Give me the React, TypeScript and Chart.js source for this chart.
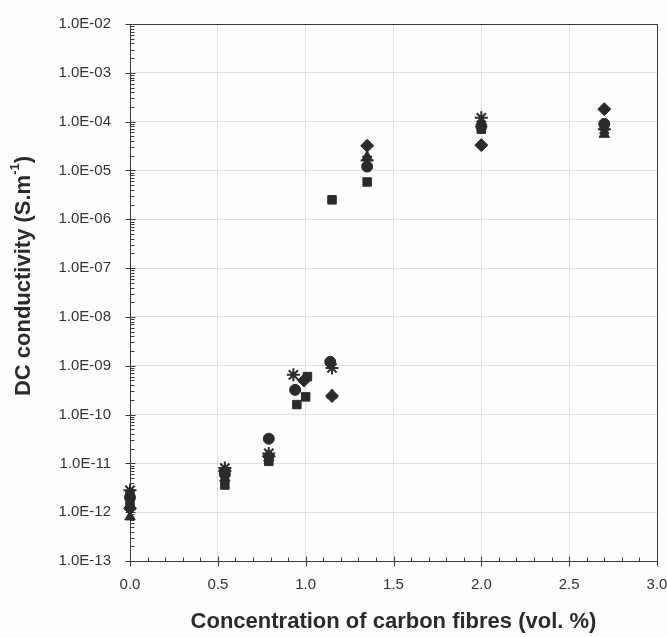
import { useEffect, useRef } from 'react';
import { Chart, registerables } from 'chart.js';
Chart.register(...registerables);

// concentration of carbon fibres (vol. %) and DC conductivity (S/m) per symbol series
const diamondX = [0, 0.54, 0.79, 0.99, 1.15, 1.35, 2.0, 2.7];
const diamondY = [1.2e-12, 7e-12, 1.4e-11, 5e-10, 2.4e-10, 3.2e-5, 3.3e-5, 1.8e-4];

const squareX = [0, 0, 0.54, 0.79, 0.95, 1.0, 1.01, 1.15, 1.35, 2.0, 2.7];
const squareY = [2.2e-12, 1.5e-12, 3.6e-12, 1.1e-11, 1.6e-10, 2.3e-10, 6e-10, 2.5e-6, 5.8e-6, 7e-5, 8e-5];

const triangleX = [0, 0.54, 0.79, 1.15, 1.35, 2.0, 2.7];
const triangleY = [8e-13, 5e-12, 1.3e-11, 2.5e-10, 1.9e-5, 9e-5, 5.5e-5];

const circleX = [0, 0.54, 0.79, 0.94, 1.14, 1.35, 2.0, 2.7];
const circleY = [2e-12, 6e-12, 3.2e-11, 3.2e-10, 1.2e-9, 1.2e-5, 8e-5, 9e-5];

const starX = [0, 0.54, 0.79, 0.93, 1.15, 1.35, 2.0, 2.7];
const starY = [2.8e-12, 8e-12, 1.6e-11, 6.5e-10, 9e-10, 1.6e-5, 1.2e-4, 7e-5];

const yTickExponents = [-13, -12, -11, -10, -9, -8, -7, -6, -5, -4, -3, -2];
const xTickValues = [0, 0.5, 1.0, 1.5, 2.0, 2.5, 3.0];

const xTitle = 'Concentration of carbon fibres (vol. %)';
const yTitleMain = 'DC conductivity (S.m';
const yTitleSup = '-1';
const yTitleEnd = ')';

const FONT = '"Liberation Sans", Arial, sans-serif';
const INK = '#2b2b2b';

const toPts = (xs: number[], ys: number[]) => xs.map((x, i) => ({ x, y: ys[i] }));
const fmtY = (v: number) => {
  const e = Math.round(Math.log10(v));
  return `1.0E${e < 0 ? '-' : '+'}${String(Math.abs(e)).padStart(2, '0')}`;
};

const framePlugin = {
  id: 'frame',
  beforeDraw(chart: any) {
    const { ctx, width, height } = chart;
    ctx.save();
    ctx.fillStyle = '#fefefc';
    ctx.fillRect(0, 0, width, height);
    ctx.restore();
  },
  beforeDatasetsDraw(chart: any) {
    const { ctx, chartArea, scales } = chart;
    const { left, right, top, bottom } = chartArea;
    const xs = scales.x, ys = scales.y;
    ctx.save();
    ctx.strokeStyle = '#3a3a3a';
    ctx.lineWidth = 1;
    ctx.beginPath();
    ctx.rect(Math.round(left) + 0.5, Math.round(top) + 0.5, Math.round(right - left), Math.round(bottom - top));
    ctx.stroke();
    const L = Math.round(left) + 0.5;
    const B = Math.round(bottom) + 0.5;
    ctx.beginPath();
    for (let e = -13; e <= -2; e++) {
      const py = Math.round(ys.getPixelForValue(Math.pow(10, e))) + 0.5;
      ctx.moveTo(L - 5, py); ctx.lineTo(L + 5, py);
      if (e < -2) {
        for (let m = 2; m <= 9; m++) {
          const pm = Math.round(ys.getPixelForValue(m * Math.pow(10, e))) + 0.5;
          ctx.moveTo(L, pm); ctx.lineTo(L + 4, pm);
        }
      }
    }
    for (let i = 0; i <= 30; i++) {
      const v = i / 10;
      const px = Math.round(xs.getPixelForValue(v)) + 0.5;
      if (i % 5 === 0) { ctx.moveTo(px, B - 5); ctx.lineTo(px, B + 5); }
      else { ctx.moveTo(px, B); ctx.lineTo(px, B - 4); }
    }
    ctx.stroke();
    ctx.restore();
  },
  afterDraw(chart: any) {
    const { ctx, chartArea } = chart;
    const { left, right } = chartArea;
    ctx.save();
    ctx.fillStyle = INK;
    ctx.font = `bold 22px ${FONT}`;
    ctx.textAlign = 'center';
    ctx.textBaseline = 'middle';
    ctx.fillText(xTitle, (left + right) / 2, 622);

    // rotated y title with superscript
    const big = `bold 22px ${FONT}`;
    const small = `bold 13px ${FONT}`;
    ctx.font = big;
    const w1 = ctx.measureText(yTitleMain).width;
    const w3 = ctx.measureText(yTitleEnd).width;
    ctx.font = small;
    const w2 = ctx.measureText(yTitleSup).width;
    const total = w1 + w2 + w3;
    ctx.translate(24, 276);
    ctx.rotate(-Math.PI / 2);
    ctx.textAlign = 'left';
    let cx = -total / 2;
    ctx.font = big;
    ctx.fillText(yTitleMain, cx, 0);
    cx += w1;
    ctx.font = small;
    ctx.fillText(yTitleSup, cx, -9);
    cx += w2;
    ctx.font = big;
    ctx.fillText(yTitleEnd, cx, 0);
    ctx.restore();
  },
};

export default function App() {
  const ref = useRef<HTMLCanvasElement>(null);
  useEffect(() => {
    if (!ref.current) return;
    const common = { backgroundColor: INK, borderColor: INK, showLine: false, clip: false as any };
    const chart = new Chart(ref.current, {
      type: 'scatter',
      data: {
        datasets: [
          { ...common, label: 'diamond', data: toPts(diamondX, diamondY), pointStyle: 'rectRot', pointRadius: 6.5, borderWidth: 1 },
          { ...common, label: 'square', data: toPts(squareX, squareY), pointStyle: 'rect', pointRadius: 6, borderWidth: 1 },
          { ...common, label: 'triangle', data: toPts(triangleX, triangleY), pointStyle: 'triangle', pointRadius: 6, borderWidth: 1 },
          { ...common, label: 'circle', data: toPts(circleX, circleY), pointStyle: 'circle', pointRadius: 5.5, borderWidth: 1 },
          { ...common, label: 'star', data: toPts(starX, starY), pointStyle: 'star', pointRadius: 6.5, borderWidth: 2 },
        ],
      },
      options: {
        responsive: false,
        animation: false,
        devicePixelRatio: 1,
        layout: { padding: { left: 0, right: 10, top: 24, bottom: 0 } },
        plugins: { legend: { display: false }, tooltip: { enabled: false } },
        scales: {
          x: {
            type: 'linear',
            min: 0,
            max: 3,
            afterBuildTicks: (s: any) => { s.ticks = xTickValues.map((v) => ({ value: v })); },
            afterFit: (s: any) => { s.height = 76; s.paddingLeft = 0; s.paddingRight = 0; },
            ticks: {
              callback: (v: any) => Number(v).toFixed(1),
              color: '#333333',
              font: { family: FONT, size: 15 },
              padding: 15,
              maxRotation: 0,
            },
            grid: { color: '#e0e0e0', drawTicks: false, lineWidth: 1 },
            border: { display: false },
          },
          y: {
            type: 'logarithmic',
            min: 1e-13,
            max: 1e-2,
            afterBuildTicks: (s: any) => { s.ticks = yTickExponents.map((e) => ({ value: Math.pow(10, e) })); },
            afterFit: (s: any) => { s.width = 130; s.paddingTop = 0; s.paddingBottom = 0; },
            ticks: {
              callback: (v: any) => fmtY(Number(v)),
              color: '#333333',
              font: { family: FONT, size: 15 },
              padding: 19,
              autoSkip: false,
            },
            grid: { color: '#e0e0e0', drawTicks: false, lineWidth: 1 },
            border: { display: false },
          },
        },
      },
      plugins: [framePlugin],
    });
    return () => chart.destroy();
  }, []);
  return (
    <div style={{ position: 'absolute', left: 0, top: 0, width: 667, height: 637 }}>
      <canvas ref={ref} width={667} height={637} />
    </div>
  );
}
